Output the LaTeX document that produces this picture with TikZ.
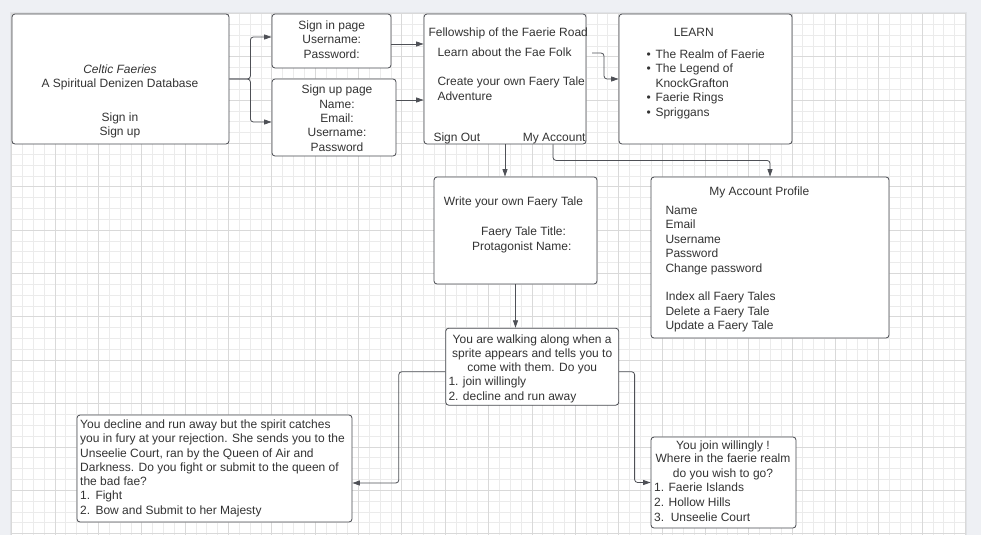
\documentclass[tikz,border=0pt]{standalone}
\usepackage{fontspec}
\setmainfont{Liberation Sans}
\usetikzlibrary{arrows.meta}
\definecolor{bgc}{HTML}{EEF0F4}
\definecolor{shadowc}{HTML}{E1E3E7}
\definecolor{minorc}{HTML}{EBEBEB}
\definecolor{majorc}{HTML}{D9D9D9}
\definecolor{edgec}{HTML}{46484E}
\definecolor{txtc}{HTML}{333333}
\definecolor{linec}{HTML}{4E5056}
\tikzset{
  box/.style={draw=edgec, line width=0.8pt, fill=white, rounded corners=3pt, inner sep=0pt},
  txt/.style={text=txtc, font=\fontsize{12}{14}\selectfont, inner sep=0pt, anchor=base},
  txtl/.style={txt, anchor=base west},
  conn/.style={draw=linec, line width=0.8pt, rounded corners=3pt, -{Triangle[length=7.5pt,width=5pt]}},
}
\begin{document}
\begin{tikzpicture}[x=1pt,y=-1pt]
\useasboundingbox (0,0) rectangle (981,535);
% background and grid paper
\fill[bgc] (0,0) rectangle (981,535);
\fill[shadowc] (10.2,11.9) rectangle (966.8,535);
\fill[white] (11.65,13.35) rectangle (965.35,535);
\foreach \i in {0,...,88} \draw[minorc, line width=0.7pt] ({11.65+\i*10.8375},13.35) -- ++(0,521.65);
\foreach \j in {0,...,48} \draw[minorc, line width=0.7pt] (11.65,{13.35+\j*10.8375}) -- (965.35,{13.35+\j*10.8375});
\foreach \i in {0,...,22} \draw[majorc, line width=0.7pt] ({11.65+\i*43.35},13.35) -- ++(0,521.65);
\foreach \j in {0,...,12} \draw[majorc, line width=0.7pt] (11.65,{13.35+\j*43.35}) -- (965.35,{13.35+\j*43.35});

% boxes
\node[box, minimum width=217pt, minimum height=130pt] (main) at (120.5,79) {};
\node[box, minimum width=119pt, minimum height=54pt] (signin) at (331.5,41) {};
\node[box, minimum width=124pt, minimum height=77pt] (signup) at (334,117.5) {};
\node[box, minimum width=162pt, minimum height=130pt] (fellow) at (505,79) {};
\node[box, minimum width=173pt, minimum height=130pt] (learn) at (705.5,79) {};
\node[box, minimum width=163pt, minimum height=107pt] (write) at (515.5,230.5) {};
\node[box, minimum width=238pt, minimum height=161pt] (profile) at (770,257.5) {};
\node[box, minimum width=173pt, minimum height=77pt] (walk) at (532.2,366.7) {};
\node[box, minimum width=275pt, minimum height=107pt] (decline) at (214.5,468.5) {};
\node[box, minimum width=145pt, minimum height=91pt] (join) at (723.5,482.5) {};

% main texts
\node[txt] (m1) at (120,73.5) {\itshape Celtic Faeries};
\node[txt] (m2) at (120,87.5) {A Spiritual Denizen Database};
\node[txt] (m3) at (120,121.9) {Sign in};
\node[txt] (m4) at (120,135.9) {Sign up};
% sign in
\node[txt] (si1) at (331.7,29.2) {Sign in page};
\node[txt] (si2) at (331.7,43.2) {Username:};
\node[txt] (si3) at (331.7,58.2) {Password:};
% sign up
\node[txt] (su1) at (337,93.9) {Sign up page};
\node[txt] (su2) at (337,108.9) {Name:};
\node[txt] (su3) at (337,122.9) {Email:};
\node[txt] (su4) at (337,136.9) {Username:};
\node[txt] (su5) at (337,151.9) {Password};
% fellowship
\node[txtl] (f1) at (428.3,36.9) {Fellowship of the Faerie Road};
\node[txtl] (f2) at (437.3,56.9) {Learn about the Fae Folk};
\node[txtl] (f3) at (437.3,85.9) {Create your own Faery Tale};
\node[txtl] (f4) at (437.3,100.9) {Adventure};
\node[txtl] (f5) at (433.3,141.5) {Sign Out};
\node[txtl] (f6) at (522.7,141.5) {My Account};
% learn
\node[txt] (l0) at (693.8,36.9) {LEARN};
\node[txtl] (lb1) at (646.5,58.5) {•};
\node[txtl] (l1) at (655.3,58.5) {The Realm of Faerie};
\node[txtl] (lb2) at (646.5,72.5) {•};
\node[txtl] (l2) at (655.3,72.5) {The Legend of};
\node[txtl] (l3) at (655.3,87.5) {KnockGrafton};
\node[txtl] (lb4) at (646.5,101.9) {•};
\node[txtl] (l4) at (655.3,101.9) {Faerie Rings};
\node[txtl] (lb5) at (646.5,116.5) {•};
\node[txtl] (l5) at (655.3,116.5) {Spriggans};
% write
\node[txt] (w1) at (513.5,205.9) {Write your own Faery Tale};
\node[txt] (w2) at (523.5,235.9) {Faery Tale Title:};
\node[txt] (w3) at (521.7,250.9) {Protagonist Name:};
% profile
\node[txt] (p0) at (759.3,195.9) {My Account Profile};
\node[txtl] (p1) at (665.3,214.2) {Name};
\node[txtl] (p2) at (665.3,228.5) {Email};
\node[txtl] (p3) at (665.3,243.5) {Username};
\node[txtl] (p4) at (665.3,257.9) {Password};
\node[txtl] (p5) at (665.3,272.5) {Change password};
\node[txtl] (p6) at (665.3,300.9) {Index all Faery Tales};
\node[txtl] (p7) at (665.3,315.9) {Delete a Faery Tale};
\node[txtl] (p8) at (665.3,329.2) {Update a Faery Tale};
% walking
\node[txt] (k1) at (532.2,343.2) {You are walking along when a};
\node[txt] (k2) at (532.2,357.9) {sprite appears and tells you to};
\node[txt] (k3) at (532.2,371.9) {come with them. Do you};
\node[txtl] (k4) at (448.3,385.9) {1.\hspace{4.4pt}join willingly};
\node[txtl] (k5) at (448.3,400.9) {2.\hspace{4.4pt}decline and run away};
% decline
\node[txtl] (d1) at (80,428.2) {You decline and run away but the spirit catches};
\node[txtl] (d2) at (80,442.9) {you in fury at your rejection. She sends you to the};
\node[txtl] (d3) at (80,457.2) {Unseelie Court, ran by the Queen of Air and};
\node[txtl] (d4) at (80,471.9) {Darkness. Do you fight or submit to the queen of};
\node[txtl] (d5) at (80,485.9) {the bad fae?};
\node[txtl] (d6) at (80,499.9) {1.\hspace{5.3pt}Fight};
\node[txtl] (d7) at (80,514.2) {2.\hspace{5.3pt}Bow and Submit to her Majesty};
% join
\node[txt] (j1) at (723,449.2) {You join willingly !};
\node[txt] (j2) at (723,462.9) {Where in the faerie realm};
\node[txt] (j3) at (723,477.5) {do you wish to go?};
\node[txtl] (j4) at (654,491.9) {1. Faerie Islands};
\node[txtl] (j5) at (654,506.9) {2. Hollow Hills};
\node[txtl] (j6) at (654,521.2) {3.\hspace{6.6pt}Unseelie Court};

% connectors
\draw[conn] (main.east) -- ++(21,0) |- ([yshift=4pt]signin.west);
\draw[conn] (main.east) -- ++(21,0) |- ([yshift=-4.5pt]signup.west);
\draw[conn] (signin.east |- 0,44) -- (fellow.west |- 0,44);
\draw[conn] (signup.east |- 0,100) -- (fellow.west |- 0,100);
\coordinate (lf) at (592,53);
\draw[conn] (lf) -- ++(12,0) |- (learn.west);
\draw[conn] (fellow.south) -- (fellow.south |- write.north);
\draw[conn] (fellow.south -| 553,0) -- ++(0,16) -| (profile.north);
\draw[conn] (write.south) -- (write.south |- walk.north);
\draw[conn] (walk.west |- 0,371.7) -- ++(-46.5,0) |- (decline.east |- 0,483);
\draw[conn] (walk.east |- 0,371.7) -- ++(15.5,0) |- (join.west);
\end{tikzpicture}
\end{document}
